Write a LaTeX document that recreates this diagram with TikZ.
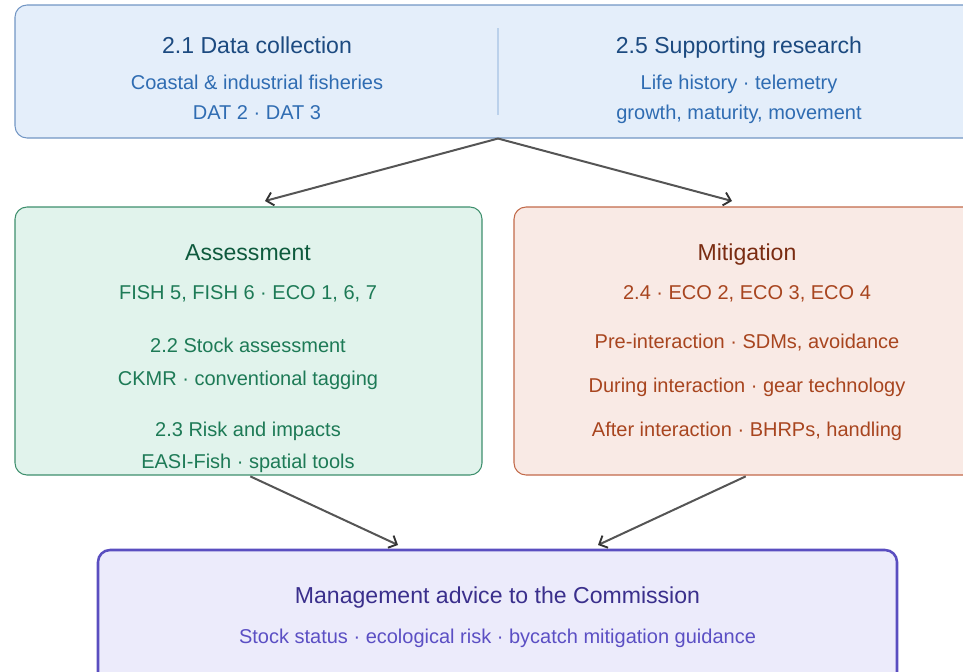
\documentclass[tikz,border=0pt]{standalone}
\usepackage{fontspec}
\setmainfont{Liberation Sans}
\usetikzlibrary{arrows.meta}
\definecolor{topfill}{HTML}{E4EEFA}
\definecolor{topdraw}{HTML}{7296C4}
\definecolor{topdiv}{HTML}{BBD1EB}
\definecolor{toptitle}{HTML}{1C4A80}
\definecolor{toptext}{HTML}{2F6CB2}
\definecolor{asfill}{HTML}{E1F3EC}
\definecolor{asdraw}{HTML}{3E8F6D}
\definecolor{astitle}{HTML}{0E5A3D}
\definecolor{astext}{HTML}{1D7A56}
\definecolor{mifill}{HTML}{F9EAE5}
\definecolor{midraw}{HTML}{C26A4A}
\definecolor{mititle}{HTML}{7A2C12}
\definecolor{mitext}{HTML}{A8451F}
\definecolor{mgfill}{HTML}{ECEBFB}
\definecolor{mgdraw}{HTML}{5A4EC0}
\definecolor{mgtitle}{HTML}{3A2F8C}
\definecolor{mgtext}{HTML}{5B4FC4}
\definecolor{arrowgray}{HTML}{555555}
\begin{document}
\begin{tikzpicture}[x=0.75pt,y=-0.75pt,
  box/.style={draw, rounded corners=9pt, inner sep=0pt, line width=0.8pt},
  ttl/.style={anchor=base, inner sep=0pt, font=\fontsize{17.3}{20}\selectfont},
  sub/.style={anchor=base, inner sep=0pt, font=\fontsize{15}{18}\selectfont},
  flow/.style={draw=arrowgray, line width=1.5pt,
    -{Straight Barb[length=5pt,width=10pt,line width=1.4pt,color=black!80]}},
]
\useasboundingbox (0,0) rectangle (963,671);
\clip (0,0) rectangle (963,671);

% top box
\node[box, draw=topdraw, fill=topfill, minimum width={966*0.75pt}, minimum height={133*0.75pt}] (top) at (498,71.5) {};
\draw[topdiv, line width=1pt] (498,28) -- (498,115);
\node[ttl, text=toptitle] (t21) at (257,53) {2.1 Data collection};
\node[sub, text=toptext] (t21a) at (257,89) {Coastal \& industrial fisheries};
\node[sub, text=toptext] (t21b) at (257,119) {DAT 2 · DAT 3};
\node[ttl, text=toptitle] (t25) at (739,53) {2.5 Supporting research};
\node[sub, text=toptext] (t25a) at (739,89) {Life history · telemetry};
\node[sub, text=toptext] (t25b) at (739,119) {growth, maturity, movement};

% assessment box
\node[box, draw=asdraw, fill=asfill, minimum width={467*0.75pt}, minimum height={268*0.75pt}] (assess) at (248.5,341) {};
\node[ttl, text=astitle] (as0) at (248,260) {Assessment};
\node[sub, text=astext] (as1) at (248,299) {FISH 5, FISH 6 · ECO 1, 6, 7};
\node[sub, text=astext] (as2) at (248,352) {2.2 Stock assessment};
\node[sub, text=astext] (as3) at (248,385) {CKMR · conventional tagging};
\node[sub, text=astext] (as4) at (248,436) {2.3 Risk and impacts};
\node[sub, text=astext] (as5) at (248,468) {EASI-Fish · spatial tools};

% mitigation box
\node[box, draw=midraw, fill=mifill, minimum width={467*0.75pt}, minimum height={268*0.75pt}] (mitig) at (747.5,341) {};
\node[ttl, text=mititle] (mi0) at (747,260) {Mitigation};
\node[sub, text=mitext] (mi1) at (747,299) {2.4 · ECO 2, ECO 3, ECO 4};
\node[sub, text=mitext] (mi2) at (747,348) {Pre-interaction · SDMs, avoidance};
\node[sub, text=mitext] (mi3) at (747,392) {During interaction · gear technology};
\node[sub, text=mitext] (mi4) at (747,436) {After interaction · BHRPs, handling};

% management box
\node[box, draw=mgdraw, fill=mgfill, line width=1.9pt, minimum width={799*0.75pt}, minimum height={140*0.75pt}] (mgmt) at (497.5,620) {};
\node[ttl, text=mgtitle] (mg0) at (497.5,603) {Management advice to the Commission};
\node[sub, text=mgtext] (mg1) at (497.5,643) {Stock status · ecological risk · bycatch mitigation guidance};

% connectors
\coordinate (e1) at (265,201);
\coordinate (e2) at (732,201);
\coordinate (e3) at (398,545);
\coordinate (e4) at (598,545);
\draw[flow] (top.south) -- (e1);
\draw[flow] (top.south) -- (e2);
\draw[flow, shorten <=1.5pt] (assess.south) -- (e3);
\draw[flow, shorten <=1.5pt] (mitig.south) -- (e4);
\end{tikzpicture}
\end{document}
